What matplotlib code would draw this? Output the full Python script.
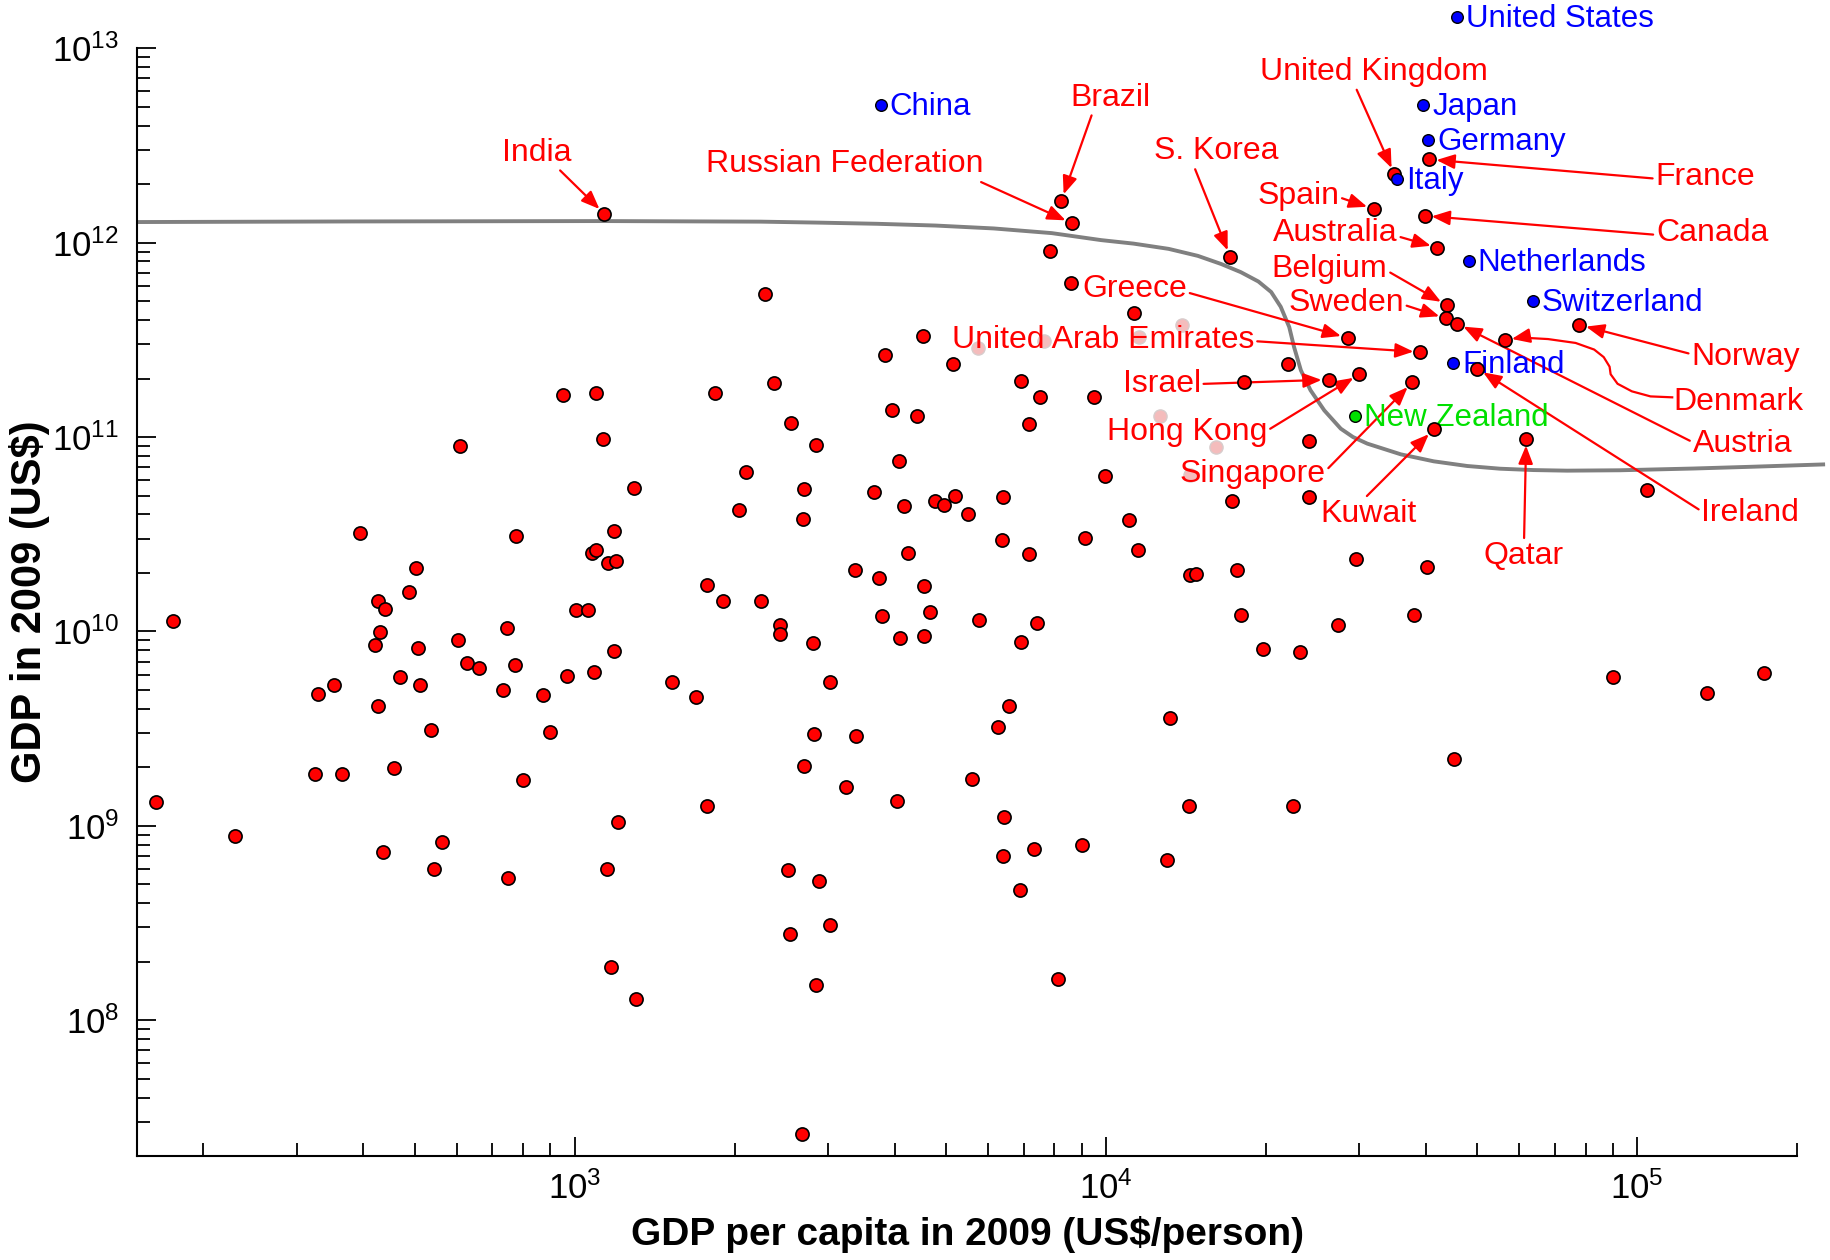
import numpy as np
import matplotlib
matplotlib.use("Agg")
import matplotlib.pyplot as plt
from matplotlib.ticker import LogLocator, LogFormatterSciNotation, NullFormatter

plt.rcParams['font.family'] = ['Liberation Sans', 'DejaVu Sans']
plt.rcParams['mathtext.fontset'] = 'custom'
plt.rcParams['mathtext.rm'] = 'Liberation Sans'
plt.rcParams['mathtext.it'] = 'Liberation Sans:italic'
plt.rcParams['mathtext.bf'] = 'Liberation Sans:bold'

# values, stored as log10
# unlabelled countries (red)
other_pc_log = [
    2.212, 2.243, 2.361, 2.511, 2.516, 2.547, 2.562, 2.595, 2.625, 2.630,
    2.630, 2.633, 2.640, 2.643, 2.659, 2.672, 2.689, 2.701, 2.706, 2.709,
    2.729, 2.735, 2.750, 2.780, 2.785, 2.797, 2.819, 2.866, 2.873, 2.875,
    2.887, 2.890, 2.902, 2.941, 2.954, 2.978, 2.986, 3.002, 3.026, 3.033,
    3.037, 3.040, 3.040, 3.054, 3.060, 3.063, 3.069, 3.078, 3.074, 3.074,
    3.081, 3.111, 3.115, 3.184, 3.228, 3.250, 3.250, 3.265, 3.279, 3.309,
    3.322, 3.350, 3.358, 3.375, 3.387, 3.387, 3.407, 3.402, 3.405, 3.427,
    3.429, 3.431, 3.431, 3.448, 3.451, 3.454, 3.460, 3.454, 3.480, 3.480,
    3.510, 3.527, 3.529, 3.607, 3.564, 3.573, 3.578, 3.585, 3.598, 3.610,
    3.613, 3.620, 3.627, 3.644, 3.656, 3.657, 3.657, 3.669, 3.679, 3.696,
    3.713, 3.716, 3.741, 3.762, 3.806, 3.804, 3.796, 3.809, 3.806, 3.747,
    3.818, 3.840, 3.838, 3.840, 3.855, 3.855, 3.865, 3.870, 3.875, 3.894,
    3.934, 3.955, 3.961, 3.977, 3.999, 4.044, 4.053, 4.061, 4.120, 4.115,
    4.157, 4.159, 4.169, 4.238, 4.247, 4.254, 4.259, 4.296, 4.343, 4.353,
    4.365, 4.382, 4.382, 4.470, 4.437, 4.580, 4.605, 4.656, 5.018, 4.954,
    5.131, 5.239, 3.910,
]
other_gdp_log = [
    9.121, 10.055, 8.947, 9.266, 9.678, 9.725, 9.266, 10.508, 9.931, 10.155,
    9.617, 9.995, 8.865, 10.113, 9.296, 9.766, 10.202, 10.327, 9.914, 9.725,
    9.495, 8.777, 8.918, 9.954, 10.952, 9.839, 9.813, 9.697, 10.020, 8.729,
    9.825, 10.491, 9.236, 9.672, 9.485, 11.214, 9.771, 10.108, 10.108, 10.402,
    9.790, 11.227, 10.420, 10.992, 8.777, 10.351, 8.274, 10.361, 10.516, 9.899,
    9.021, 10.740, 8.107, 9.738, 9.665, 9.100, 10.241, 11.227, 10.154, 10.624,
    10.819, 10.154, 11.738, 11.280, 10.034, 9.988, 11.072, 8.772, 8.442, 7.416,
    10.578, 10.731, 9.308, 9.940, 9.471, 10.959, 8.717, 8.182, 9.738, 8.490,
    9.201, 10.315, 9.462, 9.126, 10.719, 10.274, 10.080, 11.421, 11.139, 10.877,
    9.967, 10.645, 10.403, 11.106, 11.522, 9.974, 10.236, 10.101, 10.670, 10.648,
    11.375, 10.696, 10.604, 10.061, 10.692, 10.468, 9.510, 9.047, 8.844, 9.241,
    9.618, 11.287, 8.671, 9.947, 10.396, 11.066, 8.879, 10.041, 11.206, 11.956,
    11.790, 8.899, 10.483, 11.206, 10.798, 10.571, 11.639, 10.417, 9.555, 8.826,
    9.100, 10.290, 10.296, 10.670, 10.315, 10.087, 11.282, 9.912, 11.376, 9.100,
    9.893, 10.692, 10.980, 10.375, 10.032, 10.087, 10.329, 9.342, 10.727, 9.764,
    9.684, 9.785, 8.214,
]

# faded points
faded_pc_log = [3.760, 3.884, 4.063, 4.144, 4.102, 4.207, 4.158]
faded_gdp_log = [11.457, 11.493, 11.515, 11.578, 11.108, 10.949, 10.806]

# labelled countries (red, with arrows)
red_names = ["India", "Brazil", "Russian Federation", "S. Korea", "United Kingdom",
             "Spain", "Australia", "Belgium", "Sweden", "Greece",
             "United Arab Emirates", "Israel", "Hong Kong", "Singapore", "Kuwait",
             "Qatar", "France", "Canada", "Norway", "Austria", "Ireland", "Denmark"]
red_pc_log = [3.056, 3.916, 3.936, 4.234, 4.543, 4.504, 4.624, 4.642, 4.640, 4.455,
              4.592, 4.419, 4.477, 4.577, 4.617, 4.791, 4.609, 4.600, 4.891, 4.661,
              4.699, 4.751]
red_gdp_log = [12.148, 12.215, 12.100, 11.927, 12.351, 12.173, 11.974, 11.678, 11.610, 11.510,
               11.437, 11.295, 11.323, 11.282, 11.040, 10.992, 12.428, 12.138, 11.577, 11.584,
               11.352, 11.498]

# labelled countries (blue, no arrows)
blue_names = ["United States", "China", "Japan", "Germany", "Italy",
              "Netherlands", "Switzerland", "Finland"]
blue_pc_log = [4.661, 3.576, 4.597, 4.607, 4.548, 4.683, 4.803, 4.653]
blue_gdp_log = [13.160, 12.708, 12.707, 12.526, 12.329, 11.905, 11.699, 11.383]

green_name = "New Zealand"
green_pc_log = 4.468
green_gdp_log = 11.108

# grey boundary curve
curve_pc_log = [2.180, 2.581, 3.056, 3.350, 3.459, 3.569, 3.679, 3.789, 3.898, 3.991,
                4.052, 4.118, 4.173, 4.217, 4.254, 4.287, 4.311, 4.329, 4.345, 4.354,
                4.367, 4.385, 4.411, 4.442, 4.465, 4.492, 4.555, 4.617, 4.680, 4.742,
                4.805, 4.868, 4.968, 5.106, 5.215, 5.350]
curve_gdp_log = [12.106, 12.109, 12.111, 12.108, 12.103, 12.097, 12.088, 12.073, 12.049, 12.013,
                 11.995, 11.968, 11.932, 11.890, 11.848, 11.800, 11.746, 11.670, 11.566, 11.464,
                 11.343, 11.241, 11.137, 11.043, 11.000, 10.966, 10.911, 10.875, 10.851, 10.837,
                 10.830, 10.827, 10.829, 10.838, 10.847, 10.859]

# label placement: text centre (log10 x, log10 y) and arrow start on the text box
label_pos = {
    "India": (2.928, 12.463, 0.8, 0.0),
    "Brazil": (4.008, 12.746, 0.28, 0.0),
    "Russian Federation": (3.508, 12.403, 0.97, 0.0),
    "S. Korea": (4.208, 12.469, 0.32, 0.0),
    "United Kingdom": (4.504, 12.878, 0.42, 0.0),
    "Spain": (4.362, 12.241, 1.0, 0.45),
    "Australia": (4.432, 12.048, 1.0, 0.4),
    "Belgium": (4.421, 11.862, 1.0, 0.45),
    "Sweden": (4.452, 11.688, 1.0, 0.45),
    "Greece": (4.054, 11.760, 1.0, 0.4),
    "United Arab Emirates": (3.995, 11.501, 1.0, 0.45),
    "Israel": (4.105, 11.273, 1.0, 0.5),
    "Hong Kong": (4.153, 11.026, 1.0, 0.55),
    "Singapore": (4.276, 10.810, 1.0, 0.6),
    "Kuwait": (4.495, 10.605, 0.45, 1.0),
    "Qatar": (4.787, 10.389, 0.5, 1.0),
    "France": (5.128, 12.337, 0.0, 0.45),
    "Canada": (5.141, 12.048, 0.0, 0.45),
    "Norway": (5.204, 11.411, 0.0, 0.6),
    "Austria": (5.198, 10.966, 0.0, 0.55),
    "Ireland": (5.213, 10.611, 0.0, 0.55),
}
denmark_text = (5.191, 11.182)
denmark_path_pc = [5.068, 5.025, 4.990, 4.963, 4.950, 4.948, 4.937, 4.919, 4.884, 4.832, 4.779]
denmark_path_gdp = [11.204, 11.209, 11.235, 11.274, 11.323, 11.362, 11.411, 11.450, 11.484, 11.504, 11.512]

LABEL_SIZE = 23


def p10(v):
    return 10 ** np.asarray(v, dtype=float)


fig = plt.figure(figsize=(18.31, 12.6), dpi=100)
ax = fig.add_axes([0.0748, 0.0825, 0.9067, 0.8792])
ax.set_xscale('log')
ax.set_yscale('log')
ax.set_xlim(150, 2e5)
ax.set_ylim(2e7, 1e13)

for side in ['top', 'right']:
    ax.spines[side].set_visible(False)
for side in ['left', 'bottom']:
    ax.spines[side].set_linewidth(1.5)

for axis in (ax.xaxis, ax.yaxis):
    axis.set_major_locator(LogLocator(base=10, numticks=20))
    axis.set_minor_locator(LogLocator(base=10, subs=np.arange(2, 10), numticks=20))
    axis.set_major_formatter(LogFormatterSciNotation())
    axis.set_minor_formatter(NullFormatter())
ax.tick_params(which='both', direction='in', top=False, right=False, width=1.3, labelsize=25)
ax.tick_params(which='major', length=13.5)
ax.tick_params(which='minor', length=9.5)
ax.tick_params(axis='y', pad=13)
ax.tick_params(axis='x', pad=11)

ax.set_xlabel(r'GDP per capita in 2009 (US\$/person)', fontsize=28, fontweight='bold', labelpad=7)
ax.set_ylabel(r'GDP in 2009 (US\$)', fontsize=30, fontweight='bold', labelpad=1)

# boundary
ax.plot(p10(curve_pc_log), p10(curve_gdp_log), color='#808080', lw=2.8, zorder=2,
        clip_on=False, solid_joinstyle='round')

# arrows + labels
arrow_kw = dict(arrowstyle='-|>,head_length=0.55,head_width=0.22', color='red', lw=1.6,
                shrinkA=0, shrinkB=5, mutation_scale=20)
for name, pc, gdp in zip(red_names, red_pc_log, red_gdp_log):
    if name not in label_pos:
        continue
    tx, ty, rx, ry = label_pos[name]
    ax.annotate(name, xy=(10 ** pc, 10 ** gdp), xytext=(10 ** tx, 10 ** ty),
                ha='center', va='center', color='red', fontsize=LABEL_SIZE,
                arrowprops=dict(relpos=(rx, ry), **arrow_kw),
                zorder=3, annotation_clip=False)

# Denmark has a bent leader line
i_dk = red_names.index("Denmark")
ax.text(10 ** denmark_text[0], 10 ** denmark_text[1], "Denmark", ha='center', va='center',
        color='red', fontsize=LABEL_SIZE, zorder=3, clip_on=False)
ax.plot(p10(denmark_path_pc), p10(denmark_path_gdp), color='red', lw=1.6, zorder=3,
        clip_on=False, solid_capstyle='butt')
ax.annotate('', xy=(10 ** red_pc_log[i_dk], 10 ** red_gdp_log[i_dk]),
            xytext=(10 ** denmark_path_pc[-1], 10 ** denmark_path_gdp[-1]),
            arrowprops=arrow_kw, zorder=3, annotation_clip=False)

# blue / green labels sit right of their dot
for name, pc, gdp in zip(blue_names, blue_pc_log, blue_gdp_log):
    ax.annotate(name, xy=(10 ** pc, 10 ** gdp), xytext=(6.5, -1.5), textcoords='offset points',
                ha='left', va='center', color='blue', fontsize=22.5, zorder=3,
                annotation_clip=False)
ax.annotate(green_name, xy=(10 ** green_pc_log, 10 ** green_gdp_log), xytext=(6.5, -1.5),
            textcoords='offset points', ha='left', va='center', color='#00e000',
            fontsize=22.5, zorder=3, annotation_clip=False)

# points
ax.scatter(p10(faded_pc_log), p10(faded_gdp_log), s=90, c='#f4bcbc', edgecolors='#d8cccc',
           linewidths=1.0, zorder=2.5)
ax.scatter(p10(other_pc_log), p10(other_gdp_log), s=90, c='red', edgecolors='black',
           linewidths=1.2, zorder=5, clip_on=False)
ax.scatter(p10(red_pc_log), p10(red_gdp_log), s=90, c='red', edgecolors='black',
           linewidths=1.2, zorder=5, clip_on=False)
ax.scatter(p10(blue_pc_log), p10(blue_gdp_log), s=70, c='blue', edgecolors='black',
           linewidths=1.0, zorder=6, clip_on=False)
ax.scatter([10 ** green_pc_log], [10 ** green_gdp_log], s=70, c='#00e000', edgecolors='black',
           linewidths=1.0, zorder=6, clip_on=False)

fig.savefig('out.png', dpi=100)
